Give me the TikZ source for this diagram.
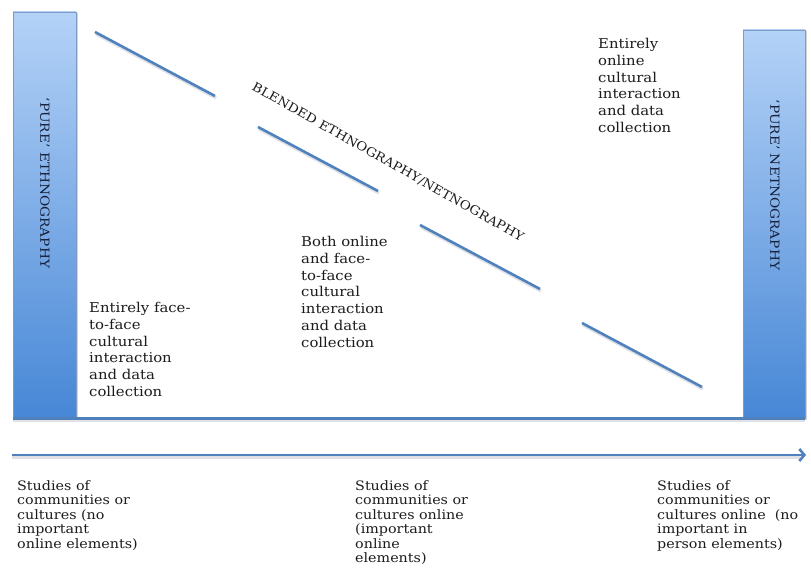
\documentclass[tikz,border=0pt]{standalone}
\usepackage{fontspec}
\setmainfont{DejaVu Serif}[FakeStretch=1.1]
\usetikzlibrary{arrows.meta,positioning,shadows}
\definecolor{nblue}{HTML}{4F81BD}
\definecolor{nshadow}{HTML}{C9CDD6}
\definecolor{ntop}{HTML}{B4D2F7}
\definecolor{nbottom}{HTML}{4787D6}
\definecolor{nedge}{HTML}{7F9BC4}
\definecolor{nink}{HTML}{16203A}
\definecolor{ntext}{HTML}{1C1C1C}

\begin{document}
\begin{tikzpicture}[x=1pt,y=-1pt,
  every node/.style={text=ntext},
  purebar/.style={draw=nedge,line width=0.6pt,top color=ntop,bottom color=nbottom,inner sep=0pt,
    drop shadow={shadow xshift=1.5pt,shadow yshift=-1.5pt,opacity=0.35}},
  barlabel/.style={rotate=-90,text=nink,font=\fontsize{12.5}{14}\selectfont},
  blend/.style={nblue,line width=2.6pt},
  blendshade/.style={nshadow,line width=3.2pt,opacity=0.6},
  midnote/.style={anchor=north west,align=left,inner sep=0pt,font=\fontsize{13.5}{16.8}\selectfont},
  studynote/.style={anchor=north west,align=left,inner sep=0pt,font=\fontsize{13}{14.5}\selectfont}]
  \useasboundingbox (0,0) rectangle (811,577);

  % the two pure ends
  \node[purebar,minimum width=63pt,minimum height=406pt] (ethbar) at (44.5,215) {};
  \node[purebar,minimum width=62pt,minimum height=388pt] (netbar) at (774,224) {};
  \node[barlabel] (ethlabel) at (45,183) {`PURE' ETHNOGRAPHY};
  \node[barlabel] (netlabel) at (775,185) {`PURE' NETNOGRAPHY};

  % baseline between the bars
  \draw[blendshade] ([yshift=-2pt]ethbar.south west) -- ([yshift=-2pt]netbar.south east);
  \draw[nblue,line width=2.4pt] (ethbar.south west) -- (netbar.south east);

  % blended middle ground
  \foreach \sx/\sy in {95/32,258/127,420/225,582/323}{
    \draw[blendshade] (\sx+1,\sy+2) -- ++(120,64);
    \draw[blend] (\sx,\sy) -- ++(120,64);
  }
  \node[rotate=-29.4,font=\fontsize{12.3}{14}\selectfont] (blendlabel) at (388,162) {BLENDED ETHNOGRAPHY/NETNOGRAPHY};

  \node[midnote] (offline) at (89,302) {Entirely face-\\to-face\\cultural\\interaction\\and data\\collection};
  \node[midnote] (mixed) at (301,236) {Both online\\and face-\\to-face\\cultural\\interaction\\and data\\collection};
  \node[midnote] (online) at (598,38) {Entirely\\online\\cultural\\interaction\\and data\\collection};

  % continuum arrow
  \coordinate (arrowstart) at (12,455);
  \coordinate (arrowend) at (806,455);
  \draw[blendshade] ([yshift=-2pt]arrowstart) -- ([yshift=-2pt,xshift=-6pt]arrowend);
  \draw[nblue,line width=2.6pt,-{Straight Barb[length=5pt,width=12pt]}] (arrowstart) -- (arrowend);

  \node[studynote] (studyoff) at (17,480) {Studies of\\communities or\\cultures (no\\important\\online elements)};
  \node[studynote] (studymix) at (355,480) {Studies of\\communities or\\cultures online\\(important\\online\\elements)};
  \node[studynote] (studyon) at (657,480) {Studies of\\communities or\\cultures online\ \ (no\\important in\\person elements)};
\end{tikzpicture}
\end{document}
